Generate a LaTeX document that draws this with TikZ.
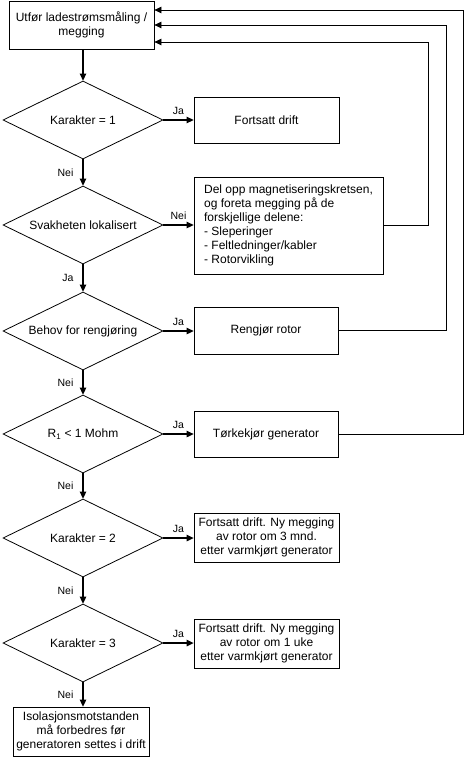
\documentclass[tikz,border=0pt]{standalone}
\usepackage{fontspec}
\setmainfont{Liberation Sans}
\usetikzlibrary{arrows.meta,shapes.geometric}
\tikzset{
  blk/.style={rectangle,draw=black,line width=.8pt,align=center,inner sep=2pt,font=\fontsize{12}{14}\selectfont},
  dec/.style={diamond,draw=black,line width=.8pt,aspect=2.05,inner sep=0pt,minimum width=160pt,minimum height=78pt,font=\fontsize{12}{14}\selectfont},
  lbl/.style={font=\fontsize{10.5}{12}\selectfont,inner sep=1pt}}

\begin{document}
\begin{tikzpicture}[x=1pt,y=-1pt,
  flow/.style={draw=black,line width=1.3pt,-{Triangle[length=7pt,width=6.5pt]}},
  back/.style={draw=black,line width=.8pt,-{Triangle[length=7pt,width=6.5pt]}}]
\path[use as bounding box] (0,0) rectangle (466,760);

\node[blk,minimum width=145pt,minimum height=48pt] (start) at (81.5,25) {Utfør ladestrømsmåling /\\megging};

\node[dec] (kar1) at (83,120) {Karakter = 1};
\node[dec] (lokal) at (83,225) {Svakheten lokalisert};
\node[dec] (rens) at (83,331) {Behov for rengjøring};
\node[dec] (motst) at (83,434) {R\textsubscript{1} < 1 Mohm};
\node[dec] (kar2) at (83,538) {Karakter = 2};
\node[dec] (kar3) at (83,643) {Karakter = 3};

\node[blk,minimum width=145pt,minimum height=46pt] (drift) at (266.5,120) {Fortsatt drift};
\node[blk,minimum width=189pt,minimum height=97pt,align=left] (delopp) at (288.5,225.5) {Del opp magnetiseringskretsen,\\og foreta megging på de\\forskjellige delene:\\- Sleperinger\\- Feltledninger/kabler\\- Rotorvikling};
\node[blk,minimum width=144pt,minimum height=47pt] (rengjor) at (266,330.5) {Rengjør rotor};
\node[blk,minimum width=144pt,minimum height=46pt] (torke) at (266,434) {Tørkekjør generator};
\node[blk,minimum width=145pt,minimum height=49pt] (ny3mnd) at (266.5,537.5) {Fortsatt drift. Ny megging\\av rotor om 3 mnd.\\etter varmkjørt generator};
\node[blk,minimum width=145pt,minimum height=49pt] (ny1uke) at (266.5,643.5) {Fortsatt drift. Ny megging\\av rotor om 1 uke\\etter varmkjørt generator};
\node[blk,minimum width=136pt,minimum height=49pt] (forbedre) at (81,731.5) {Isolasjonsmotstanden\\må forbedres før\\generatoren settes i drift};

\draw[flow] (start.south -| kar1.north) -- (kar1.north);
\draw[flow] (kar1.south) -- node[lbl,left=8pt]{Nei} (lokal.north);
\draw[flow] (lokal.south) -- node[lbl,left=8pt]{Ja} (rens.north);
\draw[flow] (rens.south) -- node[lbl,left=8pt]{Nei} (motst.north);
\draw[flow] (motst.south) -- node[lbl,left=8pt]{Nei} (kar2.north);
\draw[flow] (kar2.south) -- node[lbl,left=8pt]{Nei} (kar3.north);
\draw[flow] (kar3.south) -- node[lbl,left=8pt]{Nei} (kar3.south |- forbedre.north);

\draw[flow] (kar1.east) -- node[lbl,above=3.5pt]{Ja} (drift.west);
\draw[flow] (lokal.east) -- node[lbl,above=3.5pt]{Nei} (lokal.east -| delopp.west);
\draw[flow] (rens.east) -- node[lbl,above=3.5pt]{Ja} (rens.east -| rengjor.west);
\draw[flow] (motst.east) -- node[lbl,above=3.5pt]{Ja} (torke.west);
\draw[flow] (kar2.east) -- node[lbl,above=3.5pt]{Ja} (kar2.east -| ny3mnd.west);
\draw[flow] (kar3.east) -- node[lbl,above=3.5pt]{Ja} (kar3.east -| ny1uke.west);

\coordinate (railA) at (428,42);
\coordinate (railB) at (446,25);
\coordinate (railC) at (463,10);
\draw[back] (delopp.east) -| (railA) -- (railA -| start.east);
\draw[back] (rengjor.east) -| (railB) -- (railB -| start.east);
\draw[back] (torke.east) -| (railC) -- (railC -| start.east);
\end{tikzpicture}
\end{document}
